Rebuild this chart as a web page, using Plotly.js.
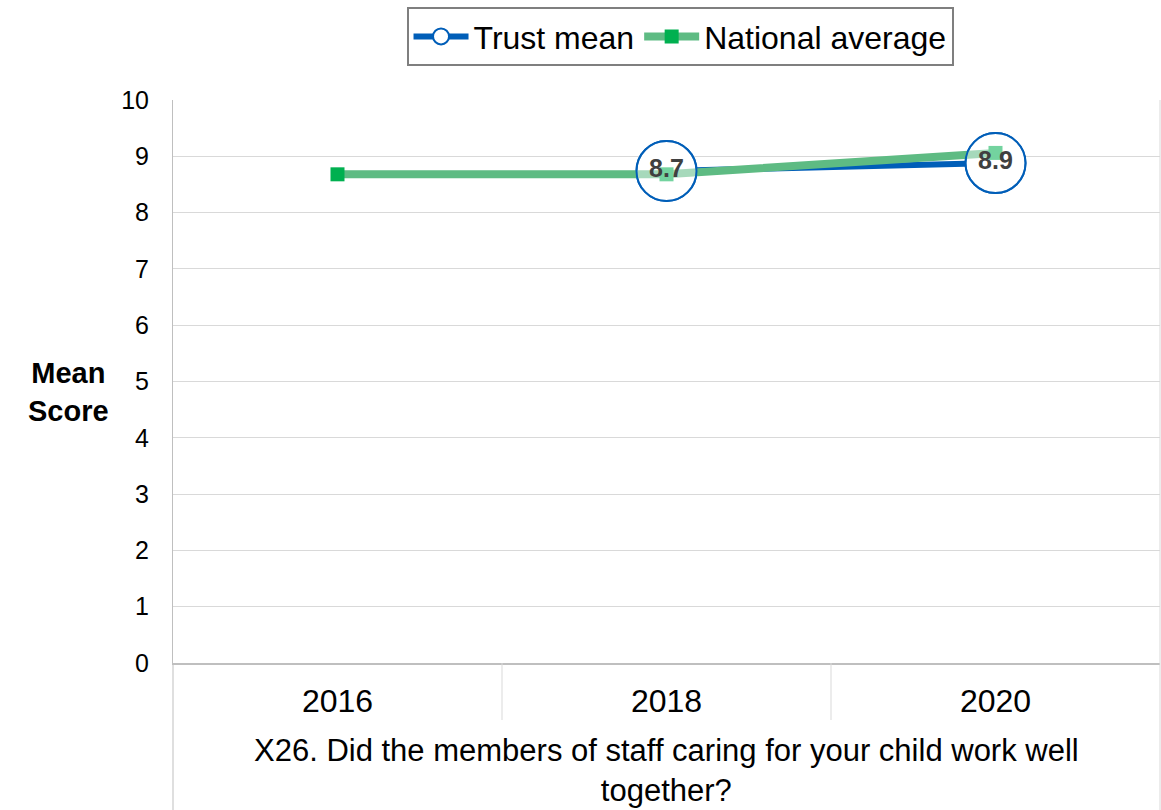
<!DOCTYPE html>
<html>
<head>
<meta charset="utf-8">
<script src="https://cdn.plot.ly/plotly-3.0.1.min.js"></script>
<style>
html,body{margin:0;padding:0;background:#fff;}
#chart{width:1161px;height:810px;}
</style>
</head>
<body>
<div id="chart"></div>
<script>
const years = ["2016", "2018", "2020"];
const trustMean = [null, 8.74, 8.88];
const nationalAverage = [8.68, 8.68, 9.06];
const xTitle = "X26. Did the members of staff caring for your child work well<br>together?";
const yTitle = "<b>Mean<br>Score</b>";

const FONT = "Liberation Sans, Arial, sans-serif";
const BLUE = "#005EB8";
const GREEN_LINE = "#5EBB83";
const GREEN_MARK = "#00B050";

const traces = [
  {
    x: years, y: trustMean, name: "Trust mean", type: "scatter", mode: "lines+markers",
    line: {color: BLUE, width: 6},
    marker: {symbol: "circle", size: 60, color: "#ffffff", line: {color: BLUE, width: 2}},
    legendrank: 1, hoverinfo: "skip"
  },
  {
    x: years, y: nationalAverage, name: "National average", type: "scatter", mode: "lines+markers",
    line: {color: GREEN_LINE, width: 8},
    marker: {symbol: "square", size: 14, color: GREEN_MARK},
    legendrank: 2
  },
  {
    x: years, y: trustMean, name: "Trust mean labels", type: "scatter", mode: "markers+text",
    showlegend: false,
    marker: {symbol: "circle", size: 60, color: "rgba(255,255,255,0.45)", line: {color: BLUE, width: 2}},
    texttemplate: "<b>%{y:.1f}</b>", textposition: "middle center",
    textfont: {family: FONT, size: 25, color: "#404040"}
  }
];

const plotH = 810 - 100 - 147;
const layout = {
  width: 1161, height: 810,
  margin: {l: 173, r: 1, t: 100, b: 147},
  paper_bgcolor: "#ffffff", plot_bgcolor: "#ffffff",
  font: {family: FONT, color: "#000000"},
  showlegend: true,
  legend: {
    orientation: "h", x: 0.5137, xanchor: "center", y: 1.165, yanchor: "top",
    font: {family: FONT, size: 32, color: "#000000"},
    bordercolor: "#7f7f7f", borderwidth: 2, bgcolor: "#ffffff",
    itemwidth: 55, traceorder: "normal"
  },
  xaxis: {
    type: "category", range: [-0.5, 2.5], showgrid: false, zeroline: false,
    showline: true, linecolor: "#bfbfbf", linewidth: 2,
    ticks: "", tickfont: {family: FONT, size: 32, color: "#000000"},
    ticklabelstandoff: 9
  },
  yaxis: {
    range: [0, 10], dtick: 1, showgrid: true, gridcolor: "#d9d9d9", gridwidth: 1,
    zeroline: false, showline: true, linecolor: "#bfbfbf", linewidth: 1,
    ticks: "", tickfont: {family: FONT, size: 25, color: "#000000"},
    ticklabelstandoff: 18
  },
  annotations: [
    {text: yTitle, xref: "paper", yref: "paper", x: (68 - 173) / 987, y: (663 - 392) / plotH,
     xanchor: "center", yanchor: "middle", showarrow: false,
     font: {family: FONT, size: 29, color: "#000000"}},
    {text: xTitle, xref: "paper", yref: "paper", x: 0.5, y: (663 - 770) / plotH,
     xanchor: "center", yanchor: "middle", showarrow: false,
     font: {family: FONT, size: 31, color: "#000000"}}
  ],
  shapes: [
    {type: "line", xref: "x", yref: "paper", x0: 0.5, x1: 0.5, y0: 0, y1: -57 / plotH, line: {color: "#d9d9d9", width: 1}},
    {type: "line", xref: "x", yref: "paper", x0: 1.5, x1: 1.5, y0: 0, y1: -57 / plotH, line: {color: "#d9d9d9", width: 1}},
    {type: "line", xref: "paper", yref: "paper", x0: 0, x1: 0, y0: 0, y1: -147 / plotH, line: {color: "#bfbfbf", width: 1}},
    {type: "line", xref: "paper", yref: "paper", x0: 1, x1: 1, y0: 1, y1: -147 / plotH, line: {color: "#d9d9d9", width: 1}}
  ]
};

Plotly.newPlot("chart", traces, layout, {displayModeBar: false, staticPlot: true});
</script>
</body>
</html>
